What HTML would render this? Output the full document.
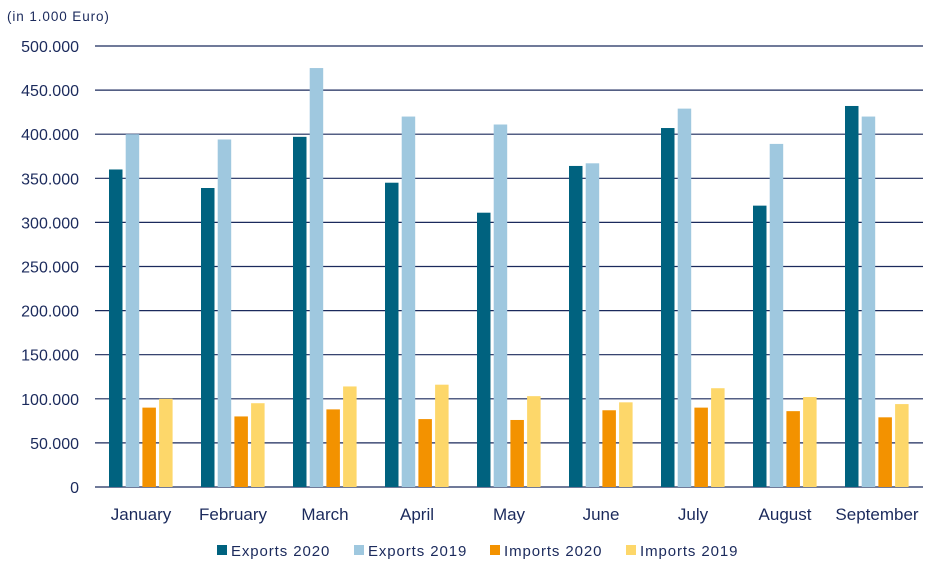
<!DOCTYPE html>
<html><head><meta charset="utf-8"><style>
body{margin:0;background:#fff;}
svg text{font-family:"Liberation Sans",sans-serif;fill:#1b2a5c;}
</style></head><body>
<svg width="940" height="572" viewBox="0 0 940 572" xmlns="http://www.w3.org/2000/svg">
<text x="7" y="21" font-size="13.5" letter-spacing="0.9">(in 1.000 Euro)</text>
<script>
const ns="http://www.w3.org/2000/svg";
function el(p,t,a,txt){const e=document.createElementNS(ns,t);for(const k in a)e.setAttribute(k,a[k]);if(txt!=null)e.textContent=txt;p.appendChild(e);return e;}
const svg=document.querySelector('svg');
const y0=487,s=0.882;
for(let i=0;i<=10;i++){const y=y0-i*50*s;
el(svg,'line',{x1:95,x2:923,y1:y,y2:y,stroke:'#1b2a5c','stroke-width':1.2});
el(svg,'text',{x:79,y:y+6,'font-size':16,'text-anchor':'end'},i==0?'0':(i*50)+'.000');}
const cats=['January','February','March','April','May','June','July','August','September'];
const d=[[360,400,90,100],[339,394,80,95],[397,475,88,114],[345,420,77,116],[311,411,76,103],[364,367,87,96],[407,429,90,112],[319,389,86,102],[432,420,79,94]];
const cols=['#00627f','#9fc8df','#f39200','#fdd76a'];
cats.forEach((c,g)=>{const gx=95+g*92;
d[g].forEach((v,j)=>{const h=v*s;el(svg,'rect',{x:gx+14+j*16.7,y:y0-h,width:13.5,height:h,fill:cols[j]});});
el(svg,'text',{x:gx+46,y:520,'font-size':17,'text-anchor':'middle'},c);});
const leg=['Exports 2020','Exports 2019','Imports 2020','Imports 2019'];
const lx=[217,354,490,626];
leg.forEach((t,i)=>{el(svg,'rect',{x:lx[i],y:545,width:10,height:10,fill:cols[i]});
el(svg,'text',{x:lx[i]+14,y:556,'font-size':15,'letter-spacing':0.9},t);});
</script>
</svg>
</body></html>
